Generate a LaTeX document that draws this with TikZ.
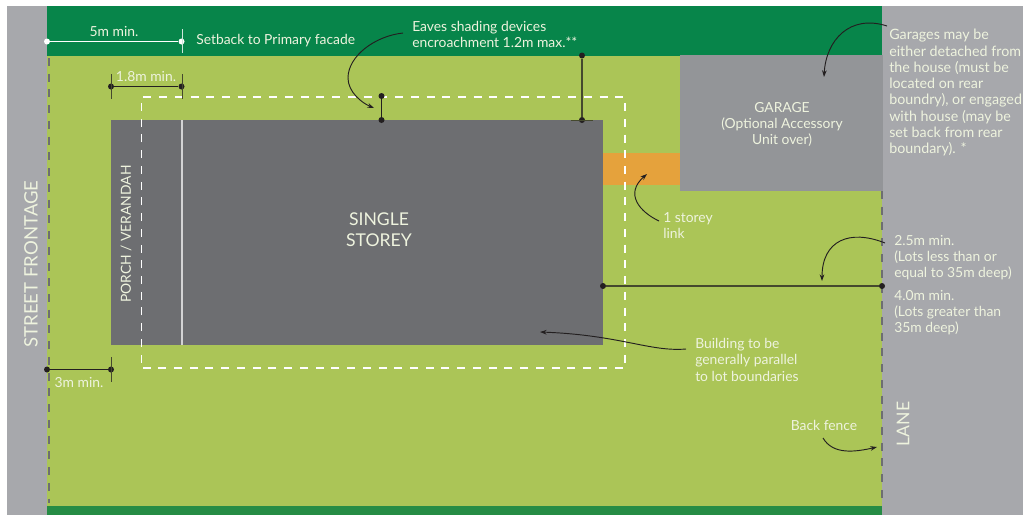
\documentclass[tikz,border=0pt]{standalone}
\usepackage{fontspec}
\setmainfont{Lato}
\usetikzlibrary{arrows.meta}
\definecolor{dkgreen}{HTML}{07854A}
\definecolor{botgreen}{HTML}{268C45}
\definecolor{ltgreen}{HTML}{ABC557}
\definecolor{road}{HTML}{A7A8AC}
\definecolor{garagec}{HTML}{939598}
\definecolor{housec}{HTML}{6D6E71}
\definecolor{orangec}{HTML}{E5A23C}
\definecolor{ink}{HTML}{231F20}
\definecolor{txtw}{HTML}{EEF3DE}
\tikzset{
 x=0.75pt,y=-0.75pt,
 lbl/.style={text=txtw,font=\fontsize{10.4pt}{12.2pt}\selectfont,align=left,inner sep=0pt,anchor=north west},
 lblc/.style={text=txtw,font=\fontsize{10.4pt}{12.2pt}\selectfont,align=center,inner sep=0pt},
 big/.style={text=txtw,font=\fontsize{13.2pt}{16pt}\selectfont,align=center,inner sep=0pt},
 dim/.style={draw=ink,line width=1pt},
 tick/.style={draw=ink!75!ltgreen,line width=0.7pt},
 wdim/.style={draw=white,line width=1pt},
 dotk/.style={circle,fill=ink,inner sep=0pt,minimum size=4.5pt},
 dotw/.style={circle,fill=white,inner sep=0pt,minimum size=4.5pt},
 fence/.style={draw=housec,line width=1.5pt,dash pattern=on 6pt off 5.8pt},
 envelope/.style={draw=white,line width=0.9pt,dash pattern=on 6pt off 5.8pt,dash phase=-4pt},
 callout/.style={draw=ink,line width=0.7pt},
 arr/.style={-{Stealth[length=5pt,width=3.5pt]}},
}
\begin{document}
\begin{tikzpicture}
\useasboundingbox (0,0) rectangle (1023,515);
\fill[white] (0,0) rectangle (1023,515);
% ground
\fill[road] (7,6) rectangle (47,515);
\fill[road] (882,6) rectangle (1023,515);
\fill[dkgreen] (47,6) rectangle (882,55.5);
\fill[ltgreen] (47,55.5) rectangle (882,506);
\fill[botgreen] (47,506) rectangle (882,515);
% buildings
\fill[orangec] (603,153) rectangle (680,185);
\fill[garagec] (680,55) rectangle (883,191);
\fill[housec] (111,120) rectangle (603,345);
\draw[draw=white!70!housec,line width=0.8pt] (182,120) -- (182,345);
% fences and envelope
\draw[fence] (48.5,58) -- (48.5,503);
\draw[fence] (881.5,191) -- (881.5,505);
\draw[envelope] (141.5,368) -- (141.5,97) -- (625,97) -- (625,368) -- cycle;
% labels
\node[lbl] (setback) at (196,34.5) {Setback to Primary facade};
\node[lblc] (five) at (114,31) {5m min.};
\node[lblc] (oneeight) at (146,76.5) {1.8m min.};
\node[lbl] (eaves) at (412,21) {Eaves shading devices\\encroachment 1.2m max.**};
\node[lblc] (garage) at (782,124.5) {GARAGE\\(Optional Accessory\\Unit over)};
\node[lbl,font=\fontsize{10.7pt}{12.2pt}\selectfont] (garnote) at (889,29) {Garages may be\\either detached from\\the house (must be\\located on rear\\boundry), or engaged\\with house (may be\\set back from rear\\boundary). *};
\node[lbl] (link) at (663,212.5) {1 storey\\link};
\node[lbl] (twofive) at (894,235) {2.5m min.\\(Lots less than or\\equal to 35m deep)};
\node[lbl] (four) at (894,290) {4.0m min.\\(Lots greater than\\35m deep)};
\node[lbl] (parallel) at (695,338) {Building to be\\generally parallel\\to lot boundaries};
\node[lblc] (threem) at (79,382) {3m min.};
\node[lblc] (backfence) at (824,425.5) {Back fence};
\node[big] (single) at (379,229.5) {SINGLE\\STOREY};
\node[lblc,rotate=90] (porch) at (126,234) {PORCH / VERANDAH};
\node[big,rotate=90,font=\fontsize{13.9pt}{16pt}\selectfont] (street) at (31,264) {STREET FRONTAGE};
\node[big,rotate=90] (lane) at (903,424) {LANE};
% 5m dimension
\node[dotw] (a1) at (47,41.5) {};
\node[dotw] (a2) at (181.5,41.5) {};
\coordinate (a3) at (182,29);
\coordinate (a4) at (182,53);
\draw[wdim] (a1) -- (a2);
\draw[draw=white!80!dkgreen,line width=0.7pt] (a3) -- (a4);
% 1.8m dimension
\node[dotk] (b1) at (111,86.5) {};
\node[dotk] (b2) at (181.5,86.5) {};
\coordinate (b3) at (111,74); \coordinate (b4) at (111,99);
\coordinate (b5) at (182,74); \coordinate (b6) at (182,99);
\draw[dim] (b1) -- (b2);
\draw[tick] (b3) -- (b4);
\draw[tick] (b5) -- (b6);
% eaves dimension
\node[dotk] (c1) at (381.5,96) {};
\node[dotk] (c2) at (381.5,120) {};
\draw[dim] (c1) -- (c2);
% upper setback dimension
\node[dotk] (d1) at (582,55.5) {};
\node[dotk] (d2) at (582,120) {};
\coordinate (d3) at (571,120); \coordinate (d4) at (593,120);
\draw[dim,draw=ink!75!ltgreen,line width=1.2pt] (d1) -- (d2);
\draw[tick] (d3) -- (d4);
% rear setback dimension
\node[dotk] (e1) at (603,286) {};
\node[dotk] (e2) at (882,286) {};
\draw[dim,draw=ink!75!ltgreen,line width=1.2pt] (e1) -- (e2);
% 3m dimension
\node[dotk] (f1) at (47,369.5) {};
\node[dotk] (f2) at (111,369.5) {};
\coordinate (f3) at (111.5,357); \coordinate (f4) at (111.5,382);
\draw[dim] (f1) -- (f2);
\draw[tick] (f3) -- (f4);
% callouts
\coordinate (g1) at (403,33); \coordinate (g2) at (348,78); \coordinate (g3) at (374,108);
\draw[callout,arr] (g1) .. controls (375,36) and (348,56) .. (g2) .. controls (348,92) and (362,103) .. (g3);
\coordinate (h1) at (887,26); \coordinate (h2) at (824,77);
\draw[callout,arr] (h1) .. controls (850,14) and (826,40) .. (h2);
\coordinate (i1) at (659,221); \coordinate (i2) at (647,174);
\draw[callout,arr] (i1) .. controls (640,212) and (624,194) .. (i2);
\coordinate (j1) at (885,243); \coordinate (j2) at (822,281);
\draw[callout,arr] (j1) .. controls (850,229) and (822,240) .. (j2);
\coordinate (k1) at (686,349); \coordinate (k2) at (540,332);
\draw[callout,arr] (k1) .. controls (650,352) and (620,335) .. (k2);
\coordinate (l1) at (823,438); \coordinate (l2) at (877,447);
\draw[callout,arr] (l1) .. controls (833,455) and (855,452) .. (l2);
\end{tikzpicture}
\end{document}
